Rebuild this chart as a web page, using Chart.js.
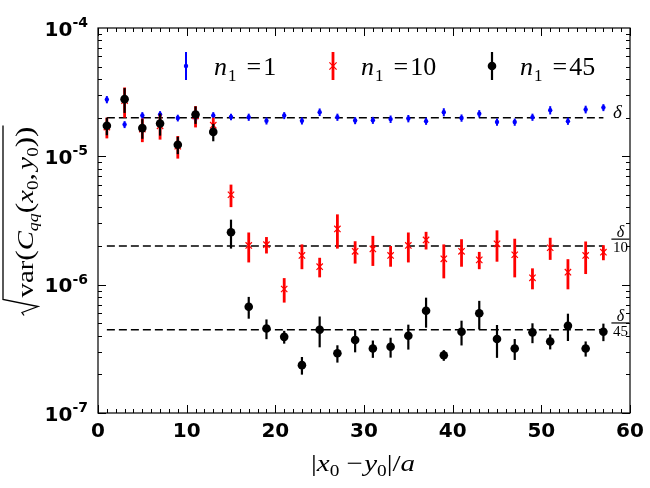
<!DOCTYPE html>
<html>
<head>
<meta charset="utf-8">
<script src="https://cdn.jsdelivr.net/npm/chart.js@4.4.0/dist/chart.umd.min.js"></script>
<style>
  html, body { margin: 0; padding: 0; background: #fff; }
</style>
</head>
<body>
<canvas id="chart" width="650" height="488"></canvas>
<script>
// ---------- data ----------
const distances = [1, 3, 5, 7, 9, 11, 13, 15, 17, 19, 21, 23, 25, 27, 29,
  31, 33, 35, 37, 39, 41, 43, 45, 47, 49, 51, 53, 55, 57];

const varN1 = [2.77e-5, 1.77e-5, 2.08e-5, 2.12e-5, 1.99e-5, 1.97e-5, 2.08e-5, 2.03e-5,
  2.02e-5, 1.89e-5, 2.08e-5, 1.89e-5, 2.21e-5, 2.02e-5, 1.90e-5, 1.91e-5, 1.95e-5,
  1.97e-5, 1.88e-5, 2.21e-5, 1.99e-5, 2.15e-5, 1.85e-5, 1.85e-5, 2.02e-5, 2.29e-5,
  1.88e-5, 2.32e-5, 2.40e-5];
const errN1 = [1.8e-6, 1.1e-6, 1.3e-6, 1.3e-6, 1.2e-6, 1.3e-6, 1.3e-6, 1.2e-6, 1.3e-6,
  1.2e-6, 1.3e-6, 1.2e-6, 1.5e-6, 1.3e-6, 1.2e-6, 1.2e-6, 1.3e-6, 1.3e-6, 1.2e-6,
  1.6e-6, 1.3e-6, 1.4e-6, 1.2e-6, 1.2e-6, 1.3e-6, 1.7e-6, 1.2e-6, 1.6e-6, 1.5e-6];

const varN10 = [1.69e-5, 2.72e-5, 1.63e-5, 1.73e-5, 1.20e-5, 2.07e-5, 1.75e-5, 5.02e-6,
  2.02e-6, 2.05e-6, 9.25e-7, 1.69e-6, 1.38e-6, 2.72e-6, 1.82e-6, 1.90e-6, 1.69e-6,
  2.02e-6, 2.23e-6, 1.59e-6, 1.82e-6, 1.56e-6, 2.08e-6, 1.71e-6, 1.13e-6, 1.94e-6,
  1.25e-6, 1.69e-6, 1.79e-6];
const errN10 = [3.1e-6, 7.2e-6, 3.4e-6, 3.8e-6, 2.4e-6, 3.9e-6, 2.5e-6, 1.0e-6, 5.3e-7,
  3.0e-7, 2.0e-7, 3.7e-7, 2.4e-7, 8.1e-7, 3.6e-7, 5.0e-7, 3.1e-7, 5.3e-7, 3.5e-7,
  4.7e-7, 4.4e-7, 2.4e-7, 5.7e-7, 5.7e-7, 2.1e-7, 3.8e-7, 3.3e-7, 4.8e-7, 2.4e-7];

const varN45 = [1.73e-5, 2.79e-5, 1.66e-5, 1.80e-5, 1.23e-5, 2.12e-5, 1.55e-5, 2.56e-6,
  6.73e-7, 4.56e-7, 3.92e-7, 2.36e-7, 4.45e-7, 2.92e-7, 3.70e-7, 3.18e-7, 3.28e-7,
  4.00e-7, 6.27e-7, 2.82e-7, 4.30e-7, 5.98e-7, 3.77e-7, 3.18e-7, 4.25e-7, 3.61e-7,
  4.79e-7, 3.18e-7, 4.30e-7];
const errN45 = [2.7e-6, 6.1e-6, 2.9e-6, 3.5e-6, 1.9e-6, 3.3e-6, 2.4e-6, 6.5e-7, 1.3e-7,
  8.0e-8, 4.5e-8, 3.7e-8, 1.2e-7, 4.5e-8, 7.3e-8, 4.9e-8, 5.8e-8, 8.8e-8, 1.65e-7,
  2.7e-8, 9.4e-8, 1.5e-7, 1.08e-7, 5.9e-8, 7.5e-8, 4.8e-8, 1.15e-7, 4.3e-8, 6.7e-8];

const delta = 2.0e-5;
const deltaDivisors = [1, 10, 45];
const seriesN = ['1', '10', '45'];
const xTickStep = 10;
const yExponents = [-4, -5, -6, -7];

// ---------- fonts / helpers ----------
const SERIF = '"Liberation Serif", "DejaVu Serif", serif';
const SANS = '"DejaVu Sans", sans-serif';

function runsWidth(ctx, runs) {
  let w = 0;
  runs.forEach((r) => {
    ctx.font = r.font;
    w += ctx.measureText(r.text).width + (r.gap || 0);
  });
  return w;
}

function drawRuns(ctx, runs, x, y) {
  runs.forEach((r) => {
    ctx.font = r.font;
    ctx.fillText(r.text, x, y + (r.dy || 0));
    x += ctx.measureText(r.text).width + (r.gap || 0);
  });
  return x;
}

const pts = (ys) => distances.map((x, i) => ({ x, y: ys[i] }));

// ---------- plugin: error bars, frame, ticks, labels ----------
const decorations = {
  id: 'decorations',
  beforeDatasetDraw(chart, args) {
    const ds = chart.data.datasets[args.index];
    if (!ds.errors) return;
    const ctx = chart.ctx, ys = chart.scales.y;
    const meta = chart.getDatasetMeta(args.index);
    ctx.save();
    ctx.strokeStyle = ds.errColor;
    ctx.lineWidth = ds.errWidth;
    ds.data.forEach((p, i) => {
      const px = meta.data[i].x;
      const lo = Math.max(p.y - ds.errors[i], 1e-9);
      const hi = p.y + ds.errors[i];
      ctx.beginPath();
      ctx.moveTo(px, ys.getPixelForValue(lo));
      ctx.lineTo(px, ys.getPixelForValue(hi));
      ctx.stroke();
    });
    ctx.restore();
  },
  afterDatasetsDraw(chart) {
    const ctx = chart.ctx, a = chart.chartArea;
    const xs = chart.scales.x, ys = chart.scales.y;
    ctx.save();
    ctx.strokeStyle = '#000';
    ctx.lineWidth = 1.2;
    ctx.strokeRect(a.left, a.top, a.right - a.left, a.bottom - a.top);

    // inward ticks, x
    ctx.lineWidth = 1;
    for (let v = xs.min; v <= xs.max; v += 1) {
      const px = Math.round(xs.getPixelForValue(v)) + 0.5;
      const len = v % xTickStep === 0 ? 8 : 4;
      ctx.beginPath();
      ctx.moveTo(px, a.bottom); ctx.lineTo(px, a.bottom - len);
      ctx.moveTo(px, a.top); ctx.lineTo(px, a.top + len);
      ctx.stroke();
    }
    // inward ticks, y (log)
    for (let e = -7; e < -4; e++) {
      for (let k = 1; k <= 9; k++) {
        const py = Math.round(ys.getPixelForValue(k * Math.pow(10, e))) + 0.5;
        const len = k === 1 ? 8 : 4;
        ctx.beginPath();
        ctx.moveTo(a.left, py); ctx.lineTo(a.left + len, py);
        ctx.moveTo(a.right, py); ctx.lineTo(a.right - len, py);
        ctx.stroke();
      }
    }
    ctx.restore();
  },
  afterDraw(chart) {
    const ctx = chart.ctx, a = chart.chartArea;
    const xs = chart.scales.x, ys = chart.scales.y;
    ctx.save();
    ctx.fillStyle = '#000';
    ctx.textBaseline = 'alphabetic';

    // y tick labels 10^n
    yExponents.forEach((e) => {
      const py = ys.getPixelForValue(Math.pow(10, e));
      const runs = [
        { text: '10', font: 'bold 20px ' + SANS },
        { text: '-' + Math.abs(e), font: 'bold 14px ' + SANS, dy: -8.5 },
      ];
      const w = runsWidth(ctx, runs);
      drawRuns(ctx, runs, a.left - 10 - w, py + 7.5);
    });

    // reference lines labels: delta, delta/10, delta/45
    const lastX = xs.getPixelForValue(distances[distances.length - 1]);
    deltaDivisors.forEach((d) => {
      const py = ys.getPixelForValue(delta / d);
      const cx = lastX + 16;
      ctx.textAlign = 'center';
      if (d === 1) {
        ctx.font = 'italic 19px ' + SERIF;
        ctx.fillText('δ', cx - 2, py + 0.5);
      } else {
        const by = py - 7;
        ctx.font = 'italic 16px ' + SERIF;
        ctx.fillText('δ', cx + 1, by - 2);
        ctx.font = '15px ' + SERIF;
        ctx.fillText(String(d), cx + 1, by + 13);
        ctx.fillRect(cx - 8, by - 0.5, 18, 1.2);
      }
      ctx.textAlign = 'left';
    });

    // legend
    const legendItems = [
      { bx: 186, idx: 3 },
      { bx: 333, idx: 4 },
      { bx: 492, idx: 5 },
    ];
    legendItems.forEach((it, j) => {
      const ds = chart.data.datasets[it.idx];
      const cy = 66;
      ctx.strokeStyle = ds.errColor;
      ctx.lineWidth = ds.errWidth;
      ctx.beginPath();
      ctx.moveTo(it.bx, cy - 14); ctx.lineTo(it.bx, cy + 14);
      ctx.stroke();
      if (ds.pointStyle === 'crossRot') {
        const r = ds.pointRadius * 0.8;
        ctx.lineWidth = ds.borderWidth;
        ctx.strokeStyle = ds.borderColor;
        ctx.beginPath();
        ctx.moveTo(it.bx - r, cy - r); ctx.lineTo(it.bx + r, cy + r);
        ctx.moveTo(it.bx + r, cy - r); ctx.lineTo(it.bx - r, cy + r);
        ctx.stroke();
      } else {
        ctx.fillStyle = ds.backgroundColor;
        ctx.beginPath();
        ctx.arc(it.bx, cy, ds.pointRadius, 0, Math.PI * 2);
        ctx.fill();
      }
      ctx.fillStyle = '#000';
      drawRuns(ctx, [
        { text: 'n', font: 'italic 26px ' + SERIF, gap: 1 },
        { text: '1', font: '17px ' + SERIF, dy: 6, gap: 10 },
        { text: '=', font: '26px ' + SERIF, gap: 2 },
        { text: seriesN[j], font: '26px ' + SERIF },
      ], it.bx + 28, 75);
    });

    // x axis title |x0 - y0|/a
    const xRuns = [
      { text: '|', font: '24px ' + SERIF },
      { text: 'x', font: 'italic 24px ' + SERIF },
      { text: '0', font: '16px ' + SERIF, dy: 5, gap: 6 },
      { text: '\u2212', font: '24px ' + SERIF, gap: 1 },
      { text: 'y', font: 'italic 24px ' + SERIF },
      { text: '0', font: '16px ' + SERIF, dy: 5 },
      { text: '|/', font: '24px ' + SERIF },
      { text: 'a', font: 'italic 24px ' + SERIF },
    ];
    const xw = runsWidth(ctx, xRuns);
    const xTarget = 104;
    ctx.save();
    ctx.translate(363, 471);
    ctx.scale(xTarget / xw, 1);
    drawRuns(ctx, xRuns, -xw / 2, 0);
    ctx.restore();

    // y axis title sqrt(var(C_qq(x0,y0)))
    const yRuns = [
      { text: 'var', font: '24px ' + SERIF },
      { text: '(', font: '26px ' + SERIF },
      { text: 'C', font: 'italic 24px ' + SERIF },
      { text: 'qq', font: 'italic 15px ' + SERIF, dy: 5 },
      { text: '(', font: '26px ' + SERIF },
      { text: 'x', font: 'italic 24px ' + SERIF },
      { text: '0', font: '16px ' + SERIF, dy: 5 },
      { text: ',', font: '24px ' + SERIF, gap: 3 },
      { text: 'y', font: 'italic 24px ' + SERIF },
      { text: '0', font: '16px ' + SERIF, dy: 5 },
      { text: '))', font: '26px ' + SERIF },
    ];
    const yw = runsWidth(ctx, yRuns);
    const target = 171;
    const cy = (a.top + a.bottom) / 2;
    ctx.translate(33, cy);
    ctx.rotate(-Math.PI / 2);
    ctx.save();
    ctx.scale(target / yw, 1);
    drawRuns(ctx, yRuns, (-77) * yw / target, 0);
    ctx.restore();
    // radical sign
    ctx.strokeStyle = '#000';
    ctx.lineWidth = 1.3;
    ctx.beginPath();
    ctx.moveTo(-95, -9);
    ctx.lineTo(-92, -11);
    ctx.lineTo(-86, 5);
    ctx.lineTo(-79, -30);
    ctx.lineTo(95, -30);
    ctx.stroke();
    ctx.restore();
  },
};

// ---------- chart ----------
const refLine = (d, order) => ({
  data: [
    { x: distances[0], y: delta / d },
    { x: distances[distances.length - 1], y: delta / d },
  ],
  showLine: true,
  borderColor: '#000',
  borderWidth: 1.5,
  borderDash: [8, 4],
  pointRadius: 0,
  order,
});

const chart = document.getElementById('chart').getContext('2d');

new Chart(chart, {
  type: 'scatter',
  data: {
    datasets: [
      refLine(deltaDivisors[0], 6),
      refLine(deltaDivisors[1], 5),
      refLine(deltaDivisors[2], 4),
      {
        label: 'n1 = 1',
        data: pts(varN1),
        errors: errN1,
        errColor: '#0000ff',
        errWidth: 2,
        pointStyle: 'circle',
        pointRadius: 2.2,
        backgroundColor: '#0000ff',
        borderWidth: 0,
        order: 3,
      },
      {
        label: 'n1 = 10',
        data: pts(varN10),
        errors: errN10,
        errColor: '#ff0000',
        errWidth: 2.8,
        pointStyle: 'crossRot',
        pointRadius: 4.5,
        borderColor: '#ff0000',
        backgroundColor: '#ff0000',
        borderWidth: 1.2,
        order: 2,
      },
      {
        label: 'n1 = 45',
        data: pts(varN45),
        errors: errN45,
        errColor: '#000000',
        errWidth: 2.2,
        pointStyle: 'circle',
        pointRadius: 4.3,
        backgroundColor: '#000000',
        borderWidth: 0,
        order: 1,
      },
    ],
  },
  options: {
    responsive: false,
    animation: false,
    devicePixelRatio: 1,
    events: [],
    layout: { padding: { left: 0, right: 20, top: 28, bottom: 0 } },
    plugins: { legend: { display: false }, tooltip: { enabled: false } },
    scales: {
      x: {
        type: 'linear',
        min: 0,
        max: 60,
        grid: { display: false },
        border: { display: false },
        ticks: {
          stepSize: xTickStep,
          padding: -1,
          color: '#000',
          font: { family: SANS, size: 20, weight: 'bold' },
        },
        afterFit: (s) => {
          s.height = 75;
          s.paddingLeft = 0;
          s.paddingRight = 0;
        },
      },
      y: {
        type: 'logarithmic',
        min: 1e-7,
        max: 1e-4,
        grid: { display: false },
        border: { display: false },
        ticks: { display: false },
        afterFit: (s) => {
          s.width = 98;
          s.paddingTop = 0;
          s.paddingBottom = 0;
        },
      },
    },
  },
  plugins: [decorations],
});
</script>
</body>
</html>
